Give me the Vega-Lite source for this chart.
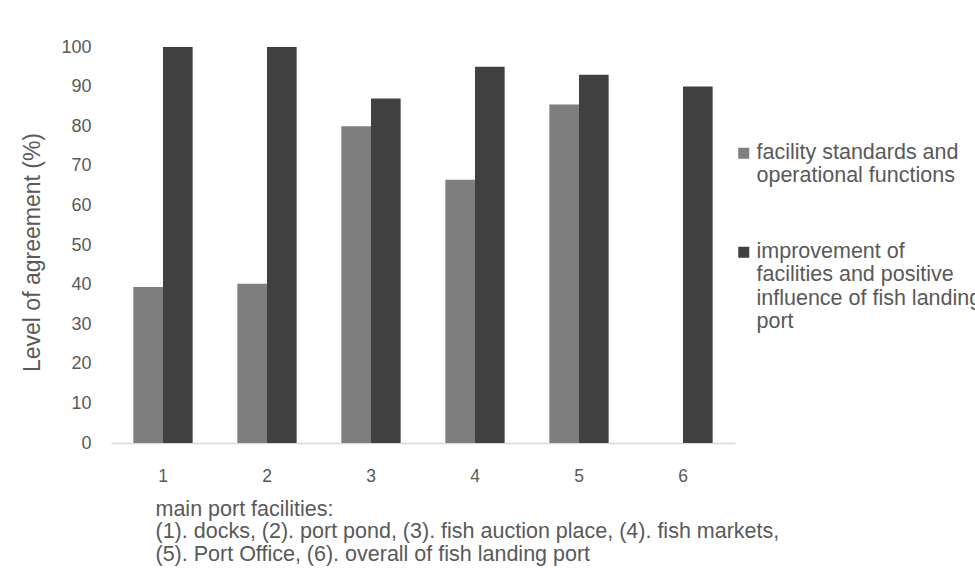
{
  "$schema": "https://vega.github.io/schema/vega-lite/v6.json",
  "autosize": {"type": "none"},
  "padding": {"left": 111, "top": 47, "right": 240, "bottom": 143},
  "width": 624,
  "height": 396,
  "background": "white",
  "title": {"text": "office.", "baseline": "alphabetic", "offset": 42, "dx": 127, "fontSize": 25, "font": "Liberation Sans", "fontWeight": "normal", "color": "#000000"},
  "data": {"values": [
    {"facility": "1", "series": "facility standards and operational functions", "value": 39.4},
    {"facility": "2", "series": "facility standards and operational functions", "value": 40.2},
    {"facility": "3", "series": "facility standards and operational functions", "value": 80},
    {"facility": "4", "series": "facility standards and operational functions", "value": 66.5},
    {"facility": "5", "series": "facility standards and operational functions", "value": 85.5},
    {"facility": "1", "series": "improvement of facilities and positive influence of fish landing port", "value": 100},
    {"facility": "2", "series": "improvement of facilities and positive influence of fish landing port", "value": 100},
    {"facility": "3", "series": "improvement of facilities and positive influence of fish landing port", "value": 87},
    {"facility": "4", "series": "improvement of facilities and positive influence of fish landing port", "value": 95},
    {"facility": "5", "series": "improvement of facilities and positive influence of fish landing port", "value": 93},
    {"facility": "6", "series": "improvement of facilities and positive influence of fish landing port", "value": 90}
  ]},
  "mark": {"type": "bar"},
  "encoding": {
    "x": {
      "field": "facility", "type": "nominal",
      "scale": {"domain": ["1","2","3","4","5","6"], "paddingInner": 0.43, "paddingOuter": 0.215},
      "axis": {
        "labelAngle": 0, "ticks": false, "labelPadding": 24,
        "domainColor": "#d9d9d9", "domainWidth": 1.5,
        "labelFont": "Liberation Sans", "labelFontSize": 17.5, "labelColor": "#595959",
        "title": ["main port facilities:", "(1). docks, (2). port pond, (3). fish auction place, (4). fish markets,", "(5). Port Office, (6). overall of fish landing port"],
        "titleFont": "Liberation Sans", "titleFontSize": 21.5, "titleFontWeight": "normal", "titleColor": "#595959",
        "titleAlign": "left", "titleAnchor": "start", "titleBaseline": "alphabetic", "titleX": 44, "titleY": 72, "titleLineHeight": 22.5
      }
    },
    "xOffset": {"field": "series", "type": "nominal", "scale": {"paddingInner": 0, "paddingOuter": 0}},
    "y": {
      "field": "value", "type": "quantitative",
      "scale": {"domain": [0, 100], "nice": false},
      "axis": {
        "values": [0,10,20,30,40,50,60,70,80,90,100],
        "grid": false, "domain": false, "ticks": false, "labelPadding": 20,
        "labelFont": "Liberation Sans", "labelFontSize": 18, "labelColor": "#595959",
        "title": "Level of agreement (%)", "titleFont": "Liberation Sans", "titleFontSize": 23, "titleFontWeight": "normal", "titleColor": "#595959",
        "titlePadding": 16, "titleY": 205
      }
    },
    "color": {
      "field": "series", "type": "nominal",
      "scale": {"range": ["#7f7f7f", "#404040"]},
      "legend": {
        "title": null, "orient": "none", "legendX": 622, "legendY": 101,
        "symbolType": "M-1,-2H1V0H-1Z", "symbolSize": 121, "symbolStrokeWidth": 0,
        "labelFont": "Liberation Sans", "labelFontSize": 21.5, "labelColor": "#595959",
        "labelLimit": 400, "labelOffset": 2, "labelBaseline": "alphabetic",
        "labelExpr": "datum.label == 'facility standards and operational functions' ? ['facility standards and', 'operational functions'] : ['improvement of', 'facilities and positive', 'influence of fish landing', 'port']",
        "rowPadding": 53
      }
    }
  },
  "config": {"view": {"stroke": null}}
}
